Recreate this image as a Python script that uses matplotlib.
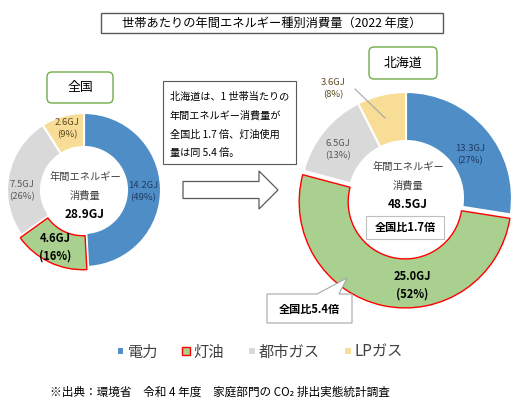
import matplotlib
matplotlib.use("Agg")
import matplotlib.pyplot as plt
import matplotlib.patches as mpatches
import numpy as np

plt.rcParams['font.family'] = ['Noto Sans CJK JP', 'DejaVu Sans']

# ---- data ----
categories = ['電力', '灯油', '都市ガス', 'LPガス']
national_gj = [14.2, 4.6, 7.5, 2.6]
national_pct = [49, 16, 26, 9]
hokkaido_gj = [13.3, 25.0, 6.5, 3.6]
hokkaido_pct = [27, 52, 13, 8]
national_total = 28.9
hokkaido_total = 48.5
ratio_total = 1.7
ratio_kerosene = 5.4

colors = ['#4F8DC6', '#A9D08E', '#D9D9D9', '#F8DD96']
label_colors = ['#1F3A60', '#000000', '#595959', '#5A4A1E']

W, H = 518, 408
fig = plt.figure(figsize=(W / 100, H / 100), dpi=100)
ax = fig.add_axes([0, 0, 1, 1])


def Y(p):
    return H - p


# ---- donuts ----
def donut(center, radius, width, values, explode):
    wedges, _ = ax.pie(values, colors=colors, startangle=90, counterclock=False,
                       center=center, radius=radius, explode=explode, frame=True,
                       wedgeprops=dict(width=width, edgecolor='white', linewidth=1.5))
    wedges[1].set_edgecolor('#FF0000')
    wedges[1].set_linewidth(1.0)
    wedges[1].set_zorder(3)
    return wedges

wl = donut((84, Y(190)), 77, 34, national_gj, [0, 3, 0, 0])
wr = donut((406, Y(198)), 106, 49, hokkaido_gj, [0, 4, 0, 0])

ax.set_xlim(0, W)
ax.set_ylim(0, H)
ax.set_aspect('equal')
ax.axis('off')

# ---- wedge labels ----
left_pos = [(143, 192), (55, 247), (22, 191), (67, 129)]
right_pos = [(470, 155), (412, 285), (338, 150), (333, 89)]
for i in range(4):
    bold = (i == 1)
    for pos, gj, pct in ((left_pos[i], national_gj[i], national_pct[i]),
                         (right_pos[i], hokkaido_gj[i], hokkaido_pct[i])):
        ax.text(pos[0], Y(pos[1]), f"{gj:.1f}GJ\n({pct}%)", ha='center', va='center',
                fontsize=8 if bold else 6.8, fontweight='bold' if bold else 'normal',
                color=label_colors[i], linespacing=1.45, zorder=5)

# leader line for LP gas (Hokkaido)
ax.plot([355, 385], [Y(89), Y(118)], color='#A6A6A6', lw=0.8, zorder=5)

# ---- center texts ----
for cx, cy, tot in ((85, 177, national_total), (408, 167, hokkaido_total)):
    ax.text(cx, Y(cy), '年間エネルギー', ha='center', va='center', fontsize=7.4, color='#404040')
    ax.text(cx, Y(cy + 19), '消費量', ha='center', va='center', fontsize=7.4, color='#404040')
    ax.text(cx, Y(cy + 37), f"{tot:.1f}GJ", ha='center', va='center', fontsize=8.5,
            fontweight='bold', color='#000000')

# 全国比1.7倍 box
ax.add_patch(mpatches.Rectangle((366, Y(239)), 78, 23, fc='white', ec='#BFBFBF', lw=0.8, zorder=4))
ax.text(405, Y(228), f"全国比{ratio_total}倍", ha='center', va='center', fontsize=8,
        fontweight='bold', zorder=5)

# 全国比5.4倍 callout
callout = [(267, 294), (317, 294), (347, 278), (339, 294), (352, 294), (352, 323), (267, 323)]
ax.add_patch(mpatches.Polygon([(x, Y(y)) for x, y in callout], closed=True, fc='white',
                              ec='#A6A6A6', lw=0.8, zorder=6))
ax.text(309, Y(309), f"全国比{ratio_kerosene}倍", ha='center', va='center', fontsize=8,
        fontweight='bold', zorder=7)

# ---- title box ----
ax.add_patch(mpatches.Rectangle((101, Y(33)), 342, 20, fc='white', ec='#595959', lw=1.0))
ax.text(272, Y(23), '世帯あたりの年間エネルギー種別消費量（2022 年度）', ha='center', va='center',
        fontsize=8.8, color='#000000')

# ---- region boxes ----
for (x0, y0, x1, y1), name in (((47, 72, 113, 103), '全国'), ((369, 47, 437, 79), '北海道')):
    ax.add_patch(mpatches.FancyBboxPatch((x0, Y(y1)), x1 - x0, y1 - y0,
                                         boxstyle='round,pad=0,rounding_size=5',
                                         fc='white', ec='#70AD47', lw=1.0))
    ax.text((x0 + x1) / 2, Y((y0 + y1) / 2), name, ha='center', va='center', fontsize=9.3)

# ---- middle note ----
ax.add_patch(mpatches.Rectangle((163, Y(164)), 133, 83, fc='white', ec='#595959', lw=0.8))
note_lines = ['北海道は、1 世帯当たりの', '年間エネルギー消費量が',
              f'全国比 {ratio_total} 倍、灯油使用', f'量は同 {ratio_kerosene} 倍。']
for k, line in enumerate(note_lines):
    ax.text(170, Y(97 + 18.7 * k), line, ha='left', va='center', fontsize=7.3, color='#000000')

# arrow
ax.add_patch(mpatches.FancyArrow(183, Y(190), 95, 0, width=17, head_width=38, head_length=19,
                                 length_includes_head=True, fc='white', ec='#595959', lw=0.9))

# ---- legend ----
leg = fig.legend(wl, categories, loc='center', bbox_to_anchor=(260 / W, 1 - 352 / H), ncol=4,
                 frameon=False, fontsize=11, handlelength=0.5, handleheight=0.5,
                 handletextpad=0.2, columnspacing=1.6, labelcolor='#404040')

# ---- source ----
ax.text(50, Y(392), '※出典：環境省　令和 4 年度　家庭部門の CO₂ 排出実態統計調査', ha='left',
        va='center', fontsize=8.4, color='#000000')

fig.savefig('out.png', dpi=100)
